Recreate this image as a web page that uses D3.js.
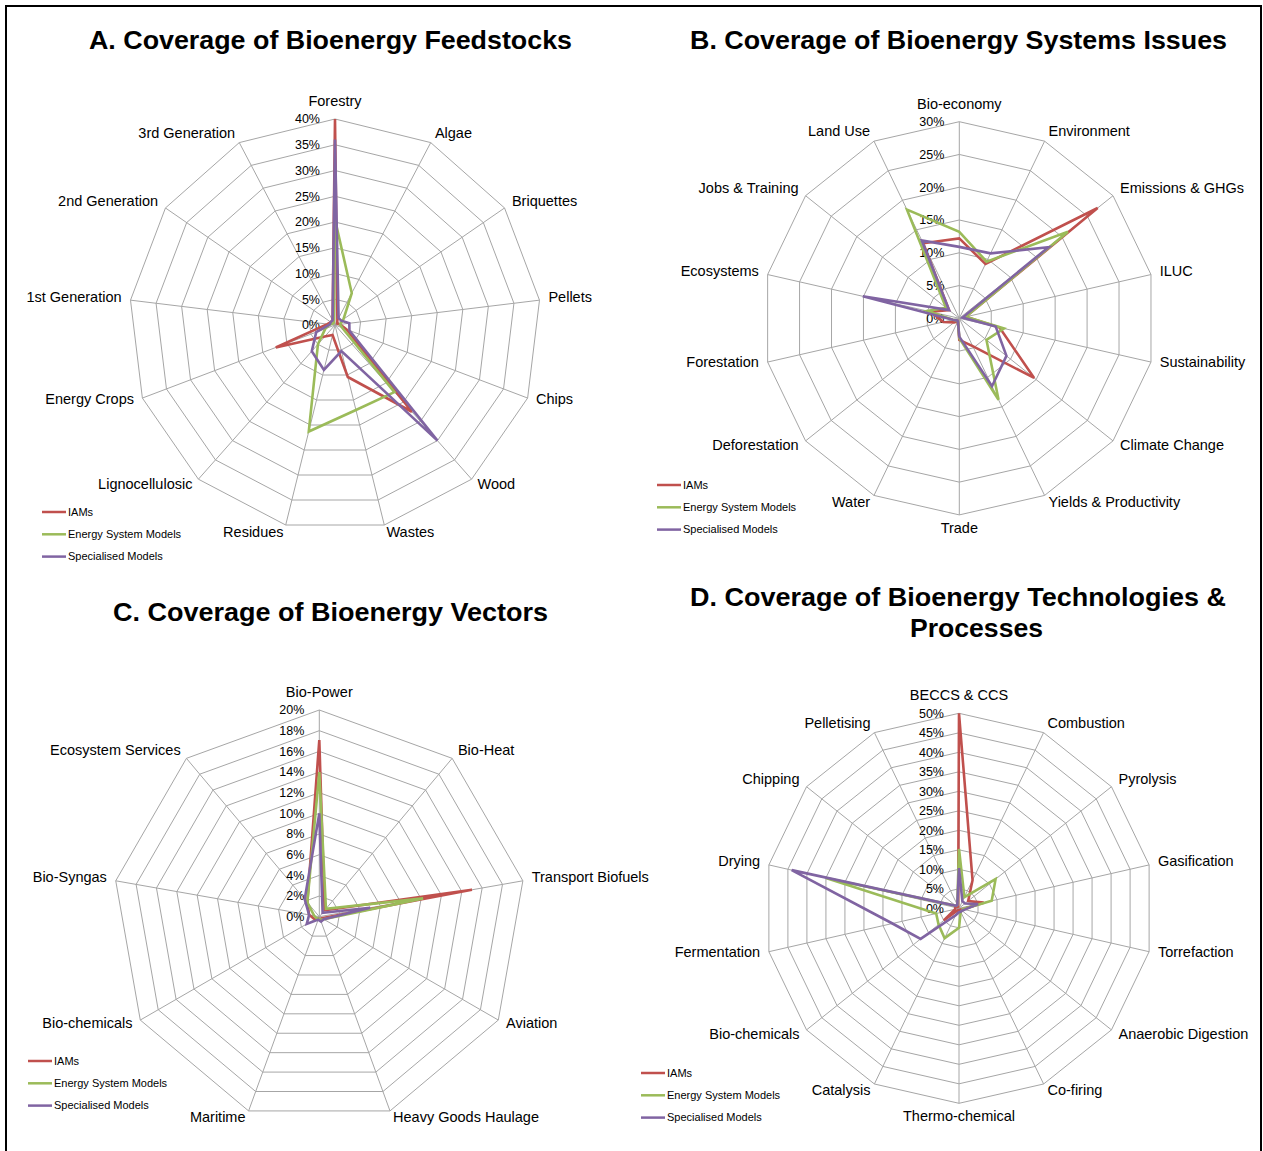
<!DOCTYPE html>
<html><head><meta charset="utf-8">
<script src="https://cdn.jsdelivr.net/npm/d3@7"></script>
<style>
body{margin:0;background:#fff;}
svg{display:block;font-family:"Liberation Sans",Arial,sans-serif;}
</style></head>
<body><svg id="c" width="1263" height="1151"></svg>
<script>
const seriesNames = ["IAMs","Energy System Models","Specialised Models"];
const seriesColors = ["#C0504D","#9BBB59","#8064A2"];

// A. Feedstocks
const catsA = ["Forestry","Algae","Briquettes","Pellets","Chips","Wood","Wastes","Residues","Lignocellulosic","Energy Crops","1st Generation","2nd Generation","3rd Generation"];
const iamsA = [40, 1, 0.5, 1, 2.4, 22.5, 10.4, 2, 3, 12.3, 1.5, 1, 1];
const esmA  = [20.5, 7, 2, 1, 1.5, 17.4, 17, 21.3, 5, 2, 1, 0.5, 0.5];
const specA = [36, 1.5, 1.5, 2.8, 3, 30, 5.2, 9, 6.8, 3.9, 1, 1, 1];
const ticksA = [0,5,10,15,20,25,30,35,40];

// B. Systems issues
const catsB = ["Bio-economy","Environment","Emissions & GHGs","ILUC","Sustainability","Climate Change","Yields & Productivity","Trade","Water","Deforestation","Forestation","Ecosystems","Jobs & Training","Land Use"];
const iamsB = [12.2, 9.2, 27, 1, 6.3, 14.6, 4.7, 3.3, 0.5, 1, 2.5, 4.5, 2, 12.7];
const esmB  = [13.2, 9.6, 21.2, 1, 7, 5.3, 13.8, 3, 0.5, 0.5, 1, 5, 2.6, 18.4];
const specB = [10.9, 11, 17.4, 0.5, 5.7, 9.2, 11.5, 2.8, 0.5, 0.5, 1, 15.1, 2, 13.2];
const ticksB = [0,5,10,15,20,25,30];

// C. Vectors
const catsC = ["Bio-Power","Bio-Heat","Transport Biofuels","Aviation","Heavy Goods Haulage","Maritime","Bio-chemicals","Bio-Syngas","Ecosystem Services"];
const iamsC = [17.1, 0.8, 15, 0.3, 0.3, 0.2, 0.5, 1, 1.8];
const esmC  = [14, 1, 10.2, 0.5, 0.3, 0.2, 0.3, 0.5, 1.8];
const specC = [10, 0.5, 5, 0.5, 0.5, 0.3, 1.4, 1, 2.2];
const ticksC = [0,2,4,6,8,10,12,14,16,18,20];

// D. Technologies & processes
const catsD = ["BECCS & CCS","Combustion","Pyrolysis","Gasification","Torrefaction","Anaerobic Digestion","Co-firing","Thermo-chemical","Catalysis","Bio-chemicals","Fermentation","Drying","Chipping","Pelletising"];
const iamsD = [50, 8, 3, 6.5, 1, 0.5, 0.5, 0.5, 0.5, 5, 1, 1, 0.5, 0.5];
const esmD  = [15.2, 3.2, 12, 8.6, 1, 1, 1, 5, 8.5, 6.7, 6, 35, 1, 1];
const specD = [10.3, 2, 2, 5, 1.5, 1, 1, 1, 2, 12.6, 17.5, 44, 1, 1];
const ticksD = [0,5,10,15,20,25,30,35,40,45,50];

const titles = [
  {lines:["A.  Coverage of Bioenergy Feedstocks"]},
  {lines:["B.  Coverage of Bioenergy Systems Issues"]},
  {lines:["C.  Coverage of Bioenergy Vectors"]},
  {lines:["D.  Coverage of Bioenergy Technologies &","Processes"]}
];

const svg = d3.select("#c");

// frame
svg.append("path").attr("d","M6,1151V6H1261V1151").attr("fill","none").attr("stroke","#000").attr("stroke-width",2);

function title(lines, xs, ys, widths){
  lines.forEach((t,i)=>{
    svg.append("text").attr("x",xs[i]).attr("y",ys[i]).attr("text-anchor","middle")
      .attr("font-size",26).attr("font-weight","bold").attr("fill","#000")
      .attr("textLength",widths[i]).attr("lengthAdjust","spacingAndGlyphs").text(t);
  });
}
title(titles[0].lines, [330.5], [48.5], [483]);
title(titles[1].lines, [958.5], [48.5], [537]);
title(titles[2].lines, [330.5], [620.5], [435]);
title(titles[3].lines, [958, 976.5], [605.5,636.5], [536,133]);

function radar(cx, cy, R, cats, data, ticks, legendPos){
  const g = svg.append("g");
  const n = cats.length;
  const max = ticks[ticks.length-1];
  const r = d3.scaleLinear().domain([0,max]).range([0,R]);
  const ang = d3.scaleLinear().domain([0,n]).range([0,2*Math.PI]);
  const idx = d3.range(n);
  // rings
  ticks.slice(1).forEach(t=>{
    const ring = d3.lineRadial().angle(i=>ang(i)).radius(()=>r(t)).curve(d3.curveLinearClosed);
    g.append("path").attr("transform",`translate(${cx},${cy})`).attr("d",ring(idx))
      .attr("fill","none").attr("stroke","#a6a6a6").attr("stroke-width",1);
  });
  // spokes
  idx.forEach(i=>{
    const a = ang(i);
    g.append("line").attr("x1",cx).attr("y1",cy)
      .attr("x2",cx+r(max)*Math.sin(a)).attr("y2",cy-r(max)*Math.cos(a))
      .attr("stroke","#a6a6a6").attr("stroke-width",1);
  });
  // tick labels
  ticks.forEach(t=>{
    g.append("text").attr("x",cx-15).attr("y",cy-r(t)).attr("dy","0.35em")
      .attr("text-anchor","end").attr("font-size",12.5).attr("fill","#000").text(t+"%");
  });
  // category labels
  idx.forEach(i=>{
    const a = ang(i), s = Math.sin(a), c = Math.cos(a);
    const lr = R + 9;
    let x = cx + lr*s, y = cy - lr*c - 2;
    let anchor = Math.abs(s) < 0.1 ? "middle" : (s > 0 ? "start" : "end");
    if (Math.abs(s) < 0.1) y += (c > 0 ? -7 : 6);
    g.append("text").attr("x",x).attr("y",y).attr("dy","0.35em").attr("text-anchor",anchor)
      .attr("font-size",14.5).attr("fill","#000").text(cats[i]);
  });
  // series
  const line = d3.lineRadial().angle((d,i)=>ang(i)).radius(d=>r(d)).curve(d3.curveLinearClosed);
  data.forEach((vals,k)=>{
    g.append("path").attr("transform",`translate(${cx},${cy})`).attr("d",line(vals))
      .attr("fill","none").attr("stroke",seriesColors[k]).attr("stroke-width",2.6)
      .attr("stroke-linejoin","miter");
  });
  // legend
  seriesNames.forEach((nm,k)=>{
    const y = legendPos[1] + k*22.3;
    g.append("line").attr("x1",legendPos[0]).attr("x2",legendPos[0]+24).attr("y1",y).attr("y2",y)
      .attr("stroke",seriesColors[k]).attr("stroke-width",2.5);
    g.append("text").attr("x",legendPos[0]+26).attr("y",y).attr("dy","0.35em")
      .attr("font-size",11).attr("fill","#000").text(nm);
  });
}

radar(335, 325, 206, catsA, [iamsA, esmA, specA], ticksA, [42, 512]);
radar(959.3, 318.3, 196.6, catsB, [iamsB, esmB, specB], ticksB, [657, 485]);
radar(319.3, 916.7, 206.7, catsC, [iamsC, esmC, specC], ticksC, [28, 1061]);
radar(959, 908.3, 195, catsD, [iamsD, esmD, specD], ticksD, [641, 1073]);
</script></body></html>
